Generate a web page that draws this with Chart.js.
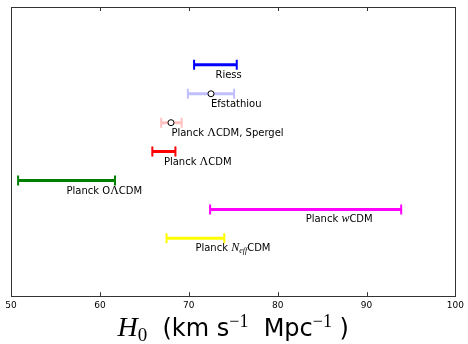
<!DOCTYPE html>
<html lang="en">
<head>
<meta charset="UTF-8">
<title>H0 measurements</title>
<script src="https://cdn.jsdelivr.net/npm/chart.js@4.4.4/dist/chart.umd.min.js"></script>
<style>
  body { margin: 0; background: #fff; }
  #wrap { width: 468px; height: 344px; }
</style>
</head>
<body>
<div id="wrap"><canvas id="h0Chart"></canvas></div>
<script>
// measurements, top row first
const names = ['Riess', 'Efstathiou', 'Planck $Λ$CDM, Spergel', 'Planck $Λ$CDM', 'Planck O$Λ$CDM', 'Planck $w$CDM', 'Planck $N_{eff}$CDM'];
const rows = [8, 7, 6, 5, 4, 3, 2];
const lows = [70.6, 69.9, 66.9, 65.9, 50.8, 72.4, 67.5];
const highs = [75.4, 75.1, 69.2, 68.5, 61.7, 93.9, 74.0];
const centers = [null, 72.5, 68.0, null, null, null, null];
const xTicks = [50, 60, 70, 80, 90, 100];

const colors = ['#0000ff', '#c0c0ff', '#ffc0c0', '#ff0000', '#008000', '#ff00ff', '#ffff00'];

const SANS = '"DejaVu Sans"';
const SERIF = '"Liberation Serif"';

// little helper for text with math bits ($...$), like matplotlib labels
function parseLabel(s) {
  const out = [];
  s.split('$').forEach((seg, k) => {
    if (!seg) return;
    if (k % 2 === 0) { out.push({t: seg, font: '10px ' + SANS}); return; }
    const m = seg.match(/^(.*?)(?:_\{(.*)\})?$/);
    const upright = /^[\u0370-\u03ff]+$/.test(m[1]);
    out.push({t: m[1], font: (upright ? '' : 'italic ') + '12px ' + SERIF});
    if (m[2]) out.push({t: m[2], font: 'italic 8px ' + SERIF, dy: 2});
  });
  return out;
}
function piecesWidth(ctx, pieces) {
  let w = 0;
  pieces.forEach(p => { ctx.font = p.font; w += ctx.measureText(p.t).width; });
  return w;
}
function drawPieces(ctx, pieces, x, y) {
  pieces.forEach(p => {
    ctx.font = p.font;
    ctx.fillText(p.t, x, y + (p.dy || 0));
    x += ctx.measureText(p.t).width;
  });
}

const datasets = [];
// open circles for the central values
datasets.push({
  data: rows.map((r, i) => centers[i] == null ? null : {x: centers[i], y: r}).filter(Boolean),
  showLine: false,
  pointRadius: 3,
  pointBackgroundColor: '#fff',
  pointBorderColor: '#000',
  pointBorderWidth: 1
});
names.forEach((n, i) => {
  datasets.push({
    data: [{x: lows[i], y: rows[i]}, {x: highs[i], y: rows[i]}],
    showLine: true,
    borderColor: colors[i],
    borderWidth: 3,
    pointStyle: 'line',
    rotation: 90,
    pointRadius: 5,
    pointBorderWidth: 2,
    pointBorderColor: colors[i]
  });
});

const framePlugin = {
  id: 'frame',
  afterDraw(chart) {
    const {ctx, chartArea: a, scales: {x}} = chart;
    ctx.save();
    ctx.strokeStyle = '#333';
    ctx.lineWidth = 1;
    ctx.strokeRect(Math.round(a.left) + 0.5, Math.round(a.top) + 0.5, Math.round(a.right - a.left), Math.round(a.bottom - a.top));
    ctx.beginPath();
    xTicks.forEach(v => {
      const px = Math.round(x.getPixelForValue(v)) + 0.5;
      ctx.moveTo(px, a.top); ctx.lineTo(px, a.top + 4);
      ctx.moveTo(px, a.bottom); ctx.lineTo(px, a.bottom - 4);
    });
    ctx.stroke();
    ctx.restore();
  }
};

const labelPlugin = {
  id: 'barLabels',
  afterDatasetsDraw(chart) {
    const {ctx, scales: {x, y}} = chart;
    ctx.save();
    ctx.fillStyle = '#000';
    ctx.textBaseline = 'alphabetic';
    names.forEach((n, i) => {
      const px = x.getPixelForValue((lows[i] + highs[i]) / 2);
      const py = y.getPixelForValue(rows[i]) + 13;
      drawPieces(ctx, parseLabel(n), px, py);
    });
    ctx.restore();
  }
};

const titlePlugin = {
  id: 'axisTitle',
  afterDraw(chart) {
    const {ctx, chartArea: a} = chart;
    const pieces = [
      {t: 'H', font: 'italic 28px ' + SERIF},
      {t: '0', font: '19px ' + SERIF, dy: 5},
      {t: '  (km s', font: '24px ' + SANS},
      {t: '−1', font: '18px ' + SERIF, dy: -9},
      {t: '  Mpc', font: '24px ' + SANS},
      {t: '−1', font: '18px ' + SERIF, dy: -9},
      {t: ' )', font: '24px ' + SANS}
    ];
    ctx.save();
    ctx.fillStyle = '#000';
    ctx.textBaseline = 'alphabetic';
    const w = piecesWidth(ctx, pieces);
    drawPieces(ctx, pieces, (a.left + a.right) / 2 - w / 2, 336);
    ctx.restore();
  }
};

new Chart(document.getElementById('h0Chart'), {
  type: 'scatter',
  data: {datasets},
  options: {
    responsive: true,
    maintainAspectRatio: false,
    animation: false,
    layout: {padding: {left: 11, right: 11, top: 6, bottom: 29}},
    plugins: {legend: {display: false}, tooltip: {enabled: false}},
    scales: {
      x: {
        type: 'linear',
        min: 50,
        max: 100,
        afterBuildTicks: s => { s.ticks = xTicks.map(v => ({value: v})); },
        ticks: {font: {family: 'DejaVu Sans', size: 9}, color: '#000', padding: 4, maxRotation: 0},
        grid: {display: false, drawTicks: false},
        border: {display: false}
      },
      y: {display: false, min: 0, max: 10}
    }
  },
  plugins: [framePlugin, labelPlugin, titlePlugin]
});
</script>
</body>
</html>
